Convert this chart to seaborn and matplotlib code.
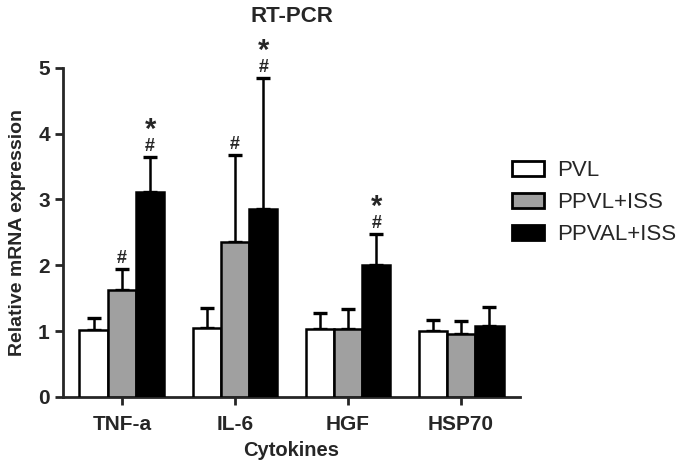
import numpy as np
import pandas as pd
import matplotlib
matplotlib.use("Agg")
import matplotlib.pyplot as plt
import seaborn as sns

cytokines = ["TNF-a", "IL-6", "HGF", "HSP70"]
groups = ["PVL", "PPVL+ISS", "PPVAL+ISS"]
pvl_mean = [1.02, 1.05, 1.03, 1.00]
pvl_err = [0.18, 0.30, 0.25, 0.17]
ppvl_mean = [1.62, 2.35, 1.03, 0.95]
ppvl_err = [0.33, 1.33, 0.30, 0.20]
ppval_mean = [3.12, 2.86, 2.01, 1.08]
ppval_err = [0.53, 1.99, 0.47, 0.29]
marks = {("TNF-a", "PPVL+ISS"): "#", ("TNF-a", "PPVAL+ISS"): "*#",
         ("IL-6", "PPVL+ISS"): "#", ("IL-6", "PPVAL+ISS"): "*#",
         ("HGF", "PPVAL+ISS"): "*#"}

df = pd.DataFrame({
    "cytokine": cytokines * 3,
    "group": [g for g in groups for _ in cytokines],
    "mean": pvl_mean + ppvl_mean + ppval_mean,
    "err": pvl_err + ppvl_err + ppval_err,
})

sns.set_style("ticks")
plt.rcParams["font.family"] = ["Liberation Sans", "DejaVu Sans"]

fig = plt.figure(figsize=(6.85, 4.62), dpi=100)
ax = fig.add_axes([0.092, 0.141, 0.667, 0.712])

palette = {"PVL": "white", "PPVL+ISS": "#a0a0a0", "PPVAL+ISS": "black"}
sns.barplot(data=df, x="cytokine", y="mean", hue="group", order=cytokines,
            hue_order=groups, palette=palette, width=0.75, errorbar=None,
            edgecolor="black", linewidth=1.8, ax=ax, zorder=3)

# one-sided error bars and significance marks
for gi, g in enumerate(groups):
    sub = df[df["group"] == g].set_index("cytokine").loc[cytokines]
    bars = ax.containers[gi]
    for b, (c, row) in zip(bars, sub.iterrows()):
        xc = b.get_x() + b.get_width() / 2
        ax.errorbar(xc, row["mean"], yerr=[[0], [row["err"]]], fmt="none",
                    ecolor="black", elinewidth=1.8, capsize=5, capthick=2.4,
                    zorder=2)
        m = marks.get((c, g))
        if m:
            top = row["mean"] + row["err"]
            ax.text(xc, top + 0.09, "#", ha="center", va="baseline",
                    fontsize=13, fontweight="bold", clip_on=False)
            if "*" in m:
                ax.text(xc, top + 0.28, "*", ha="center", va="baseline",
                        fontsize=21, fontweight="bold", clip_on=False)

ax.set_ylim(0, 5)
ax.set_xlim(-0.52, 3.52)
ax.set_yticks(range(6))
for side in ["top", "right"]:
    ax.spines[side].set_visible(False)
for side in ["left", "bottom"]:
    ax.spines[side].set_linewidth(2)
ax.tick_params(axis="both", width=2, length=6, labelsize=15)
ax.tick_params(axis="x", pad=7)
for lab in ax.get_xticklabels() + ax.get_yticklabels():
    lab.set_fontweight("bold")

ax.set_xlabel("Cytokines", fontsize=14.5, fontweight="bold", labelpad=5)
ax.set_ylabel("Relative mRNA expression", fontsize=14, fontweight="bold", labelpad=9)
ax.set_title("RT-PCR", fontsize=16, fontweight="bold", pad=33)

leg = ax.legend(title=None, frameon=False, loc="center left",
                bbox_to_anchor=(0.982, 0.59), fontsize=16, handlelength=1.45,
                handleheight=0.7, handletextpad=0.6, labelspacing=0.5,
                borderpad=0, borderaxespad=0)
for h in leg.legend_handles:
    h.set_linewidth(2)

fig.savefig("out.png", dpi=100)
